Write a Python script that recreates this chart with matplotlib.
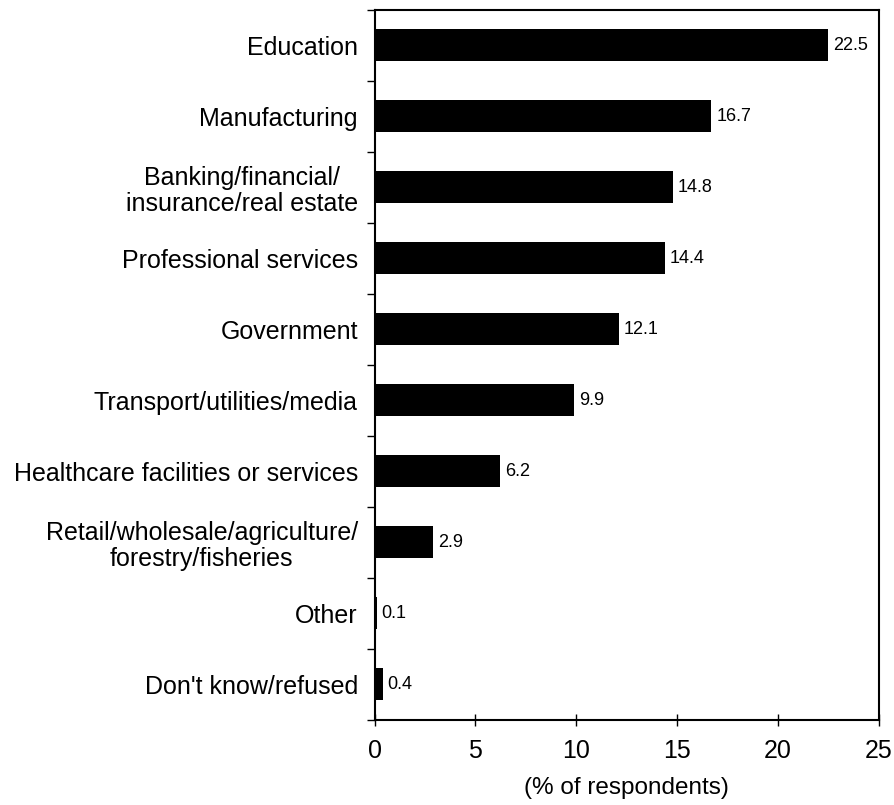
import numpy as np
import matplotlib.pyplot as plt

plt.rcParams['font.family'] = ['Liberation Sans', 'DejaVu Sans']

# 数据
categories = [
    'Education',
    'Manufacturing',
    'Banking/financial/\ninsurance/real estate',
    'Professional services',
    'Government',
    'Transport/utilities/media',
    'Healthcare facilities or services',
    'Retail/wholesale/agriculture/\nforestry/fisheries',
    'Other',
    "Don't know/refused",
]
values = [22.5, 16.7, 14.8, 14.4, 12.1, 9.9, 6.2, 2.9, 0.1, 0.4]
value_labels = ['22.5', '16.7', '14.8', '14.4', '12.1', '9.9', '6.2', '2.9', '0.1', '0.4']
x_ticks = [0, 5, 10, 15, 20, 25]


def main():
    fig = plt.figure(figsize=(8.94, 8.05), dpi=100)
    ax = fig.add_axes([0.419, 0.106, 0.564, 0.882])

    y = np.arange(len(categories))
    ax.barh(y, values, height=0.46, color='black')

    for yi, v, lab in zip(y, values, value_labels):
        ax.text(v + 0.25, yi, lab, va='center', ha='left', fontsize=13)

    ax.set_xlim(0, 25)
    ax.set_ylim(len(categories) - 0.5, -0.5)
    ax.set_xticks(x_ticks)
    ax.set_xticklabels([str(t) for t in x_ticks], fontsize=18)
    ax.tick_params(axis='x', direction='inout', length=8, width=1, pad=10)

    # 分类标签放在类别中间, 刻度线放在类别边界
    ax.set_yticks(y)
    ax.set_yticklabels(categories, fontsize=18, multialignment='center',
                       linespacing=1.1)
    ax.tick_params(axis='y', which='major', length=0, pad=12)
    ax.set_yticks(np.arange(-0.5, len(categories), 1), minor=True)
    ax.tick_params(axis='y', which='minor', direction='out', length=6, width=1)

    for s in ax.spines.values():
        s.set_linewidth(1.5)

    ax.set_xlabel('(% of respondents)', fontsize=17.5, labelpad=10)

    fig.savefig('out.png', dpi=100)


if __name__ == "__main__":
    main()
